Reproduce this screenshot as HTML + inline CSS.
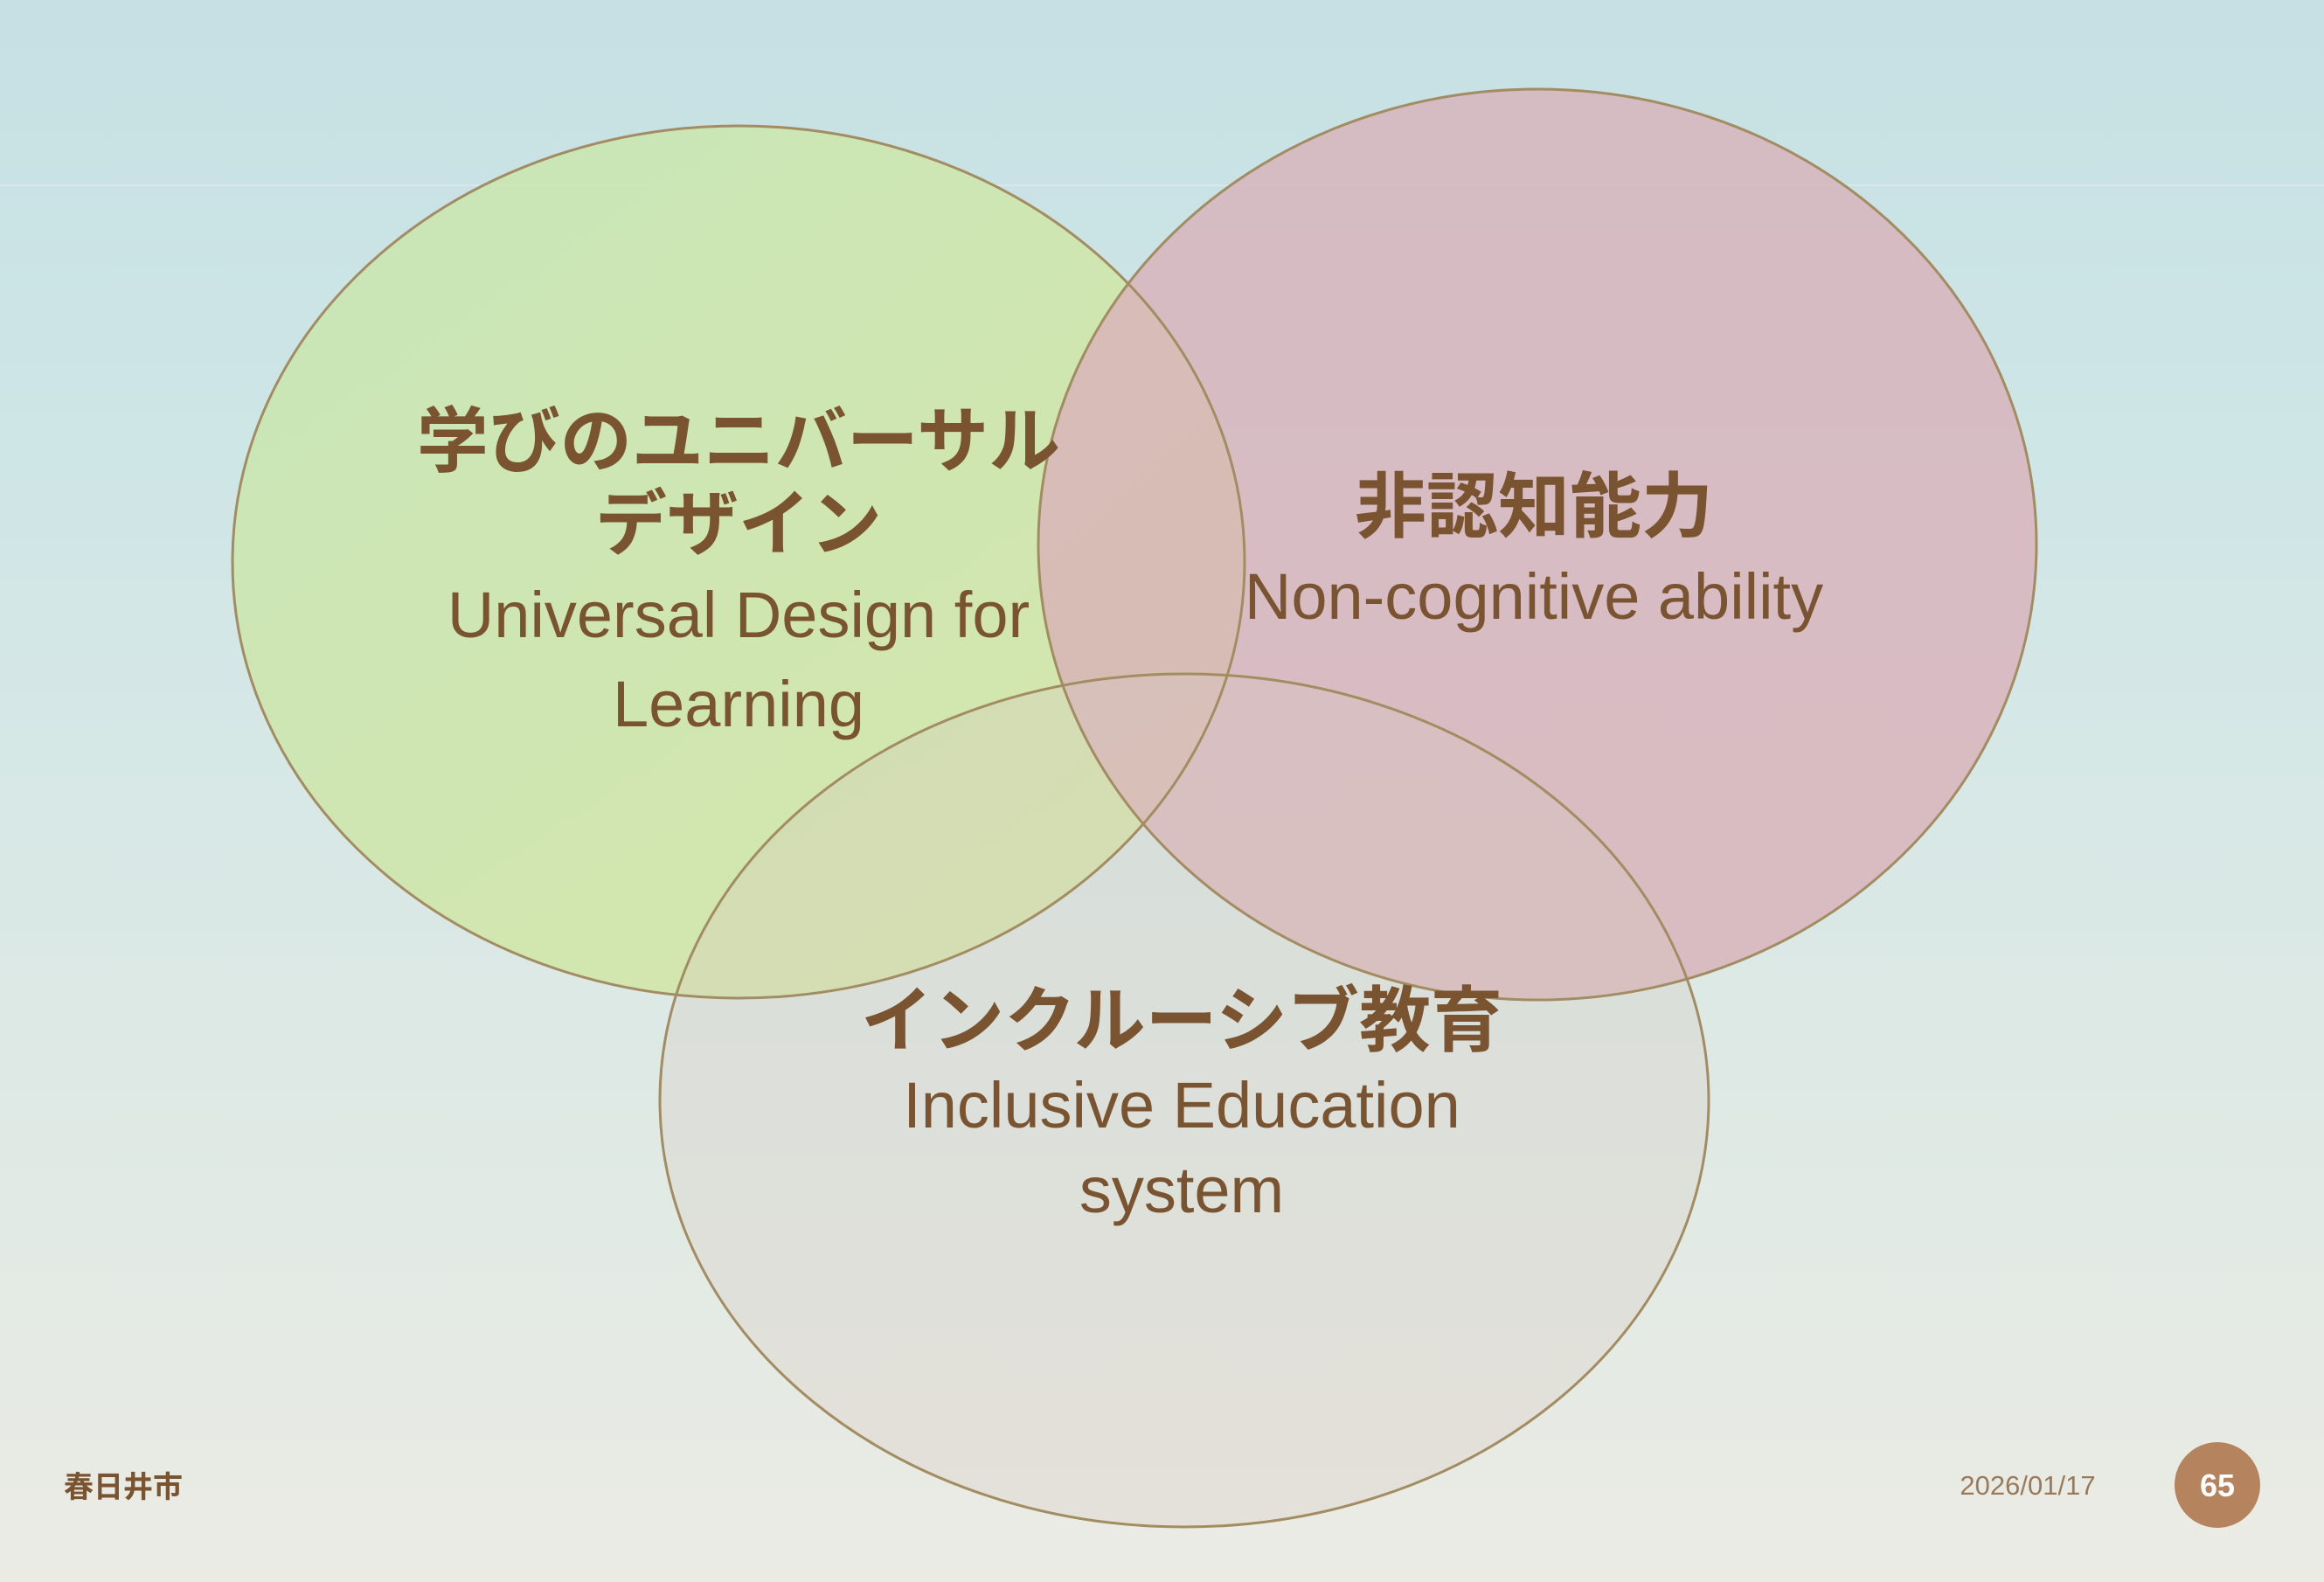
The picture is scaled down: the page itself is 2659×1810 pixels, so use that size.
<!DOCTYPE html>
<html><head><meta charset="utf-8"><style>
html,body{margin:0;padding:0;}
body{width:2659px;height:1810px;overflow:hidden;background:linear-gradient(180deg,#c6e0e4 0%,#cfe6e6 30%,#dde9e5 65%,#ebebe4 100%);position:relative;font-family:"Liberation Sans","Noto Sans CJK JP",sans-serif;}
svg{position:absolute;left:0;top:0;}
</style></head><body>
<svg width="2659" height="1810" viewBox="0 0 2659 1810">
<defs>
<linearGradient id="g" x1="0" y1="0" x2="1" y2="1"><stop offset="0" stop-color="#c8e6b4"/><stop offset="1" stop-color="#d6e6a4"/></linearGradient>
</defs>
<line x1="0" y1="212" x2="2659" y2="212" stroke="#d6e8ea" stroke-width="2"/>
<ellipse cx="845" cy="643" rx="579" ry="499" fill="url(#g)" fill-opacity="0.9"/>
<ellipse cx="1759" cy="623" rx="571" ry="521" fill="#d9b0b8" fill-opacity="0.78"/>
<ellipse cx="1355" cy="1259" rx="600" ry="488" fill="#d8cbc0" fill-opacity="0.3"/>
<ellipse cx="845" cy="643" rx="579" ry="499" fill="none" stroke="#a38c62" stroke-width="3"/>
<ellipse cx="1759" cy="623" rx="571" ry="521" fill="none" stroke="#a38c62" stroke-width="3"/>
<ellipse cx="1355" cy="1259" rx="600" ry="488" fill="none" stroke="#a38c62" stroke-width="3"/>
<g fill="#7a5430" text-anchor="middle" font-family="Liberation Sans, Noto Sans CJK JP, sans-serif">
<text x="845" y="533" font-size="82" font-weight="bold">学びのユニバーサル</text>
<text x="845" y="628" font-size="82" font-weight="bold">デザイン</text>
<text x="845" y="729" font-size="74">Universal Design for</text>
<text x="845" y="831" font-size="74">Learning</text>
<text x="1755" y="608" font-size="82" font-weight="bold">非認知能力</text>
<text x="1755" y="708" font-size="74">Non-cognitive ability</text>
<text x="1352" y="1196" font-size="82" font-weight="bold">インクルーシブ教育</text>
<text x="1352" y="1290" font-size="74">Inclusive Education</text>
<text x="1352" y="1387" font-size="74">system</text>
<text x="141" y="1713" font-size="34" font-weight="bold">春日井市</text>
<text x="2320" y="1710" font-size="31" fill="#9a7a5a">2026/01/17</text>
</g>
<circle cx="2537" cy="1699" r="49" fill="#b5845e"/>
<text x="2537" y="1712" font-size="36" font-weight="bold" fill="#fff" text-anchor="middle" font-family="Liberation Sans, sans-serif">65</text>
</svg>
</body></html>
